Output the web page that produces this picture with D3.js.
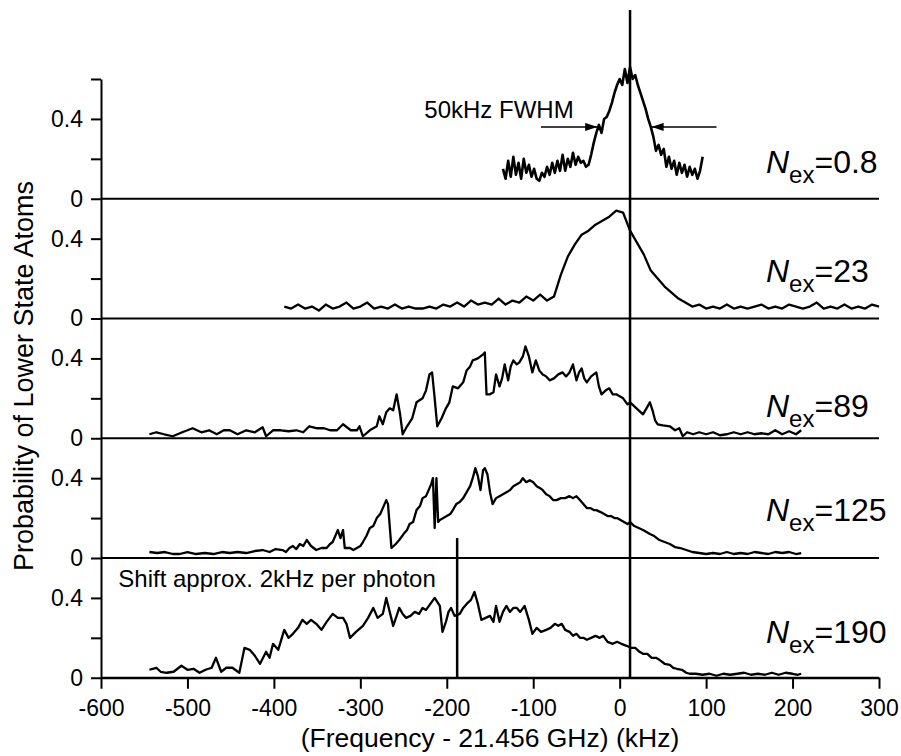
<!DOCTYPE html>
<html lang="en">
<head>
<meta charset="UTF-8">
<title>Probability of Lower State Atoms</title>
<script src="https://cdn.jsdelivr.net/npm/d3@7"></script>
<style>
  body { margin: 0; background: #fff; }
  text { font-family: "Liberation Sans", Arial, sans-serif; fill: #000; }
</style>
</head>
<body>
<script>
// panel labels, top to bottom
const nexLabels = ["0.8", "23", "89", "125", "190"];

// [frequency offset (kHz), probability]
const nex08 = [[-135,0.15],[-132,0.10],[-129,0.19],[-126,0.11],[-123,0.21],[-120,0.12],[-117,0.18],[-114,0.10],[-111,0.20],[-108,0.13],
  [-105,0.17],[-102,0.11],[-99,0.15],[-96,0.10],[-93,0.09],[-90,0.13],[-87,0.11],[-84,0.16],[-81,0.12],[-78,0.18],
  [-75,0.13],[-72,0.19],[-69,0.14],[-66,0.22],[-63,0.14],[-60,0.20],[-57,0.16],[-54,0.23],[-51,0.17],[-48,0.21],
  [-45,0.18],[-42,0.19],[-39,0.16],[-36,0.17],[-33,0.22],[-30,0.28],[-27,0.33],[-24,0.37],[-21,0.33],[-18,0.40],
  [-15,0.41],[-12,0.44],[-9,0.48],[-6,0.53],[-3,0.57],[0,0.60],[3,0.57],[6,0.65],[9,0.58],[12,0.66],
  [15,0.60],[18,0.62],[21,0.57],[24,0.53],[27,0.49],[30,0.45],[33,0.40],[36,0.36],[39,0.31],[42,0.24],
  [45,0.27],[48,0.22],[51,0.25],[54,0.16],[57,0.21],[60,0.15],[63,0.19],[66,0.12],[69,0.18],[72,0.13],
  [75,0.17],[78,0.11],[81,0.16],[84,0.12],[87,0.15],[90,0.10],[93,0.14],[96,0.21]];

const nex23 = [[-388,0.06],[-380,0.05],[-372,0.07],[-364,0.05],[-356,0.06],[-348,0.04],[-340,0.07],[-332,0.05],[-324,0.06],[-316,0.08],
  [-308,0.05],[-300,0.06],[-292,0.08],[-284,0.05],[-276,0.06],[-268,0.05],[-260,0.07],[-252,0.05],[-244,0.06],[-236,0.05],
  [-228,0.05],[-220,0.06],[-212,0.05],[-204,0.07],[-196,0.06],[-188,0.08],[-180,0.06],[-172,0.09],[-164,0.07],[-156,0.08],
  [-148,0.07],[-140,0.10],[-132,0.07],[-124,0.09],[-116,0.08],[-108,0.11],[-100,0.09],[-92,0.12],[-84,0.09],[-76,0.11],
  [-68,0.22],[-60,0.31],[-52,0.37],[-44,0.42],[-36,0.44],[-28,0.47],[-20,0.49],[-12,0.51],[-4,0.54],[4,0.53],
  [12,0.44],[20,0.38],[28,0.32],[36,0.24],[44,0.20],[52,0.16],[60,0.13],[68,0.10],[76,0.08],[84,0.06],
  [92,0.07],[100,0.05],[108,0.06],[116,0.05],[124,0.07],[132,0.05],[140,0.06],[148,0.05],[156,0.06],[164,0.07],
  [172,0.05],[180,0.06],[188,0.05],[196,0.07],[204,0.06],[212,0.05],[220,0.06],[228,0.08],[236,0.05],[244,0.06],
  [252,0.05],[260,0.07],[268,0.05],[276,0.06],[284,0.05],[292,0.07],[300,0.06]];

const nex89 = [[-544,0.02],[-536,0.03],[-527,0.02],[-517,0.01],[-506,0.03],[-494,0.05],[-484,0.03],[-475,0.04],[-466,0.02],[-458,0.04],
  [-451,0.04],[-442,0.02],[-432,0.04],[-422,0.03],[-413,0.055],[-409,0.01],[-401,0.04],[-392,0.04],[-383,0.035],[-374,0.04],
  [-366,0.03],[-359,0.06],[-350,0.05],[-342,0.05],[-335,0.04],[-327,0.04],[-320,0.07],[-311,0.04],[-304,0.04],[-301,0.06],
  [-297,0.01],[-289,0.04],[-281,0.06],[-278,0.11],[-274,0.07],[-270,0.13],[-266,0.15],[-262,0.14],[-258,0.22],[-254,0.12],
  [-251,0.02],[-246,0.06],[-240,0.10],[-235,0.18],[-228,0.20],[-224,0.24],[-220,0.32],[-217,0.33],[-214,0.20],[-211,0.06],
  [-206,0.10],[-201,0.15],[-197,0.18],[-193,0.26],[-187,0.25],[-181,0.28],[-177,0.34],[-173,0.36],[-170,0.39],[-164,0.40],
  [-158,0.42],[-156,0.43],[-154,0.22],[-150,0.22],[-146,0.23],[-143,0.32],[-139,0.26],[-136,0.30],[-133,0.37],[-129,0.29],
  [-126,0.36],[-123,0.39],[-119,0.37],[-116,0.38],[-112,0.41],[-109,0.46],[-105,0.41],[-101,0.33],[-97,0.39],[-93,0.34],
  [-89,0.32],[-85,0.31],[-81,0.29],[-76,0.30],[-71,0.32],[-66,0.33],[-62,0.31],[-58,0.33],[-54,0.37],[-50,0.29],
  [-47,0.33],[-44,0.35],[-41,0.30],[-38,0.28],[-33,0.31],[-27,0.33],[-24,0.26],[-21,0.22],[-16,0.24],[-12,0.25],
  [-8,0.22],[-4,0.22],[0,0.21],[4,0.20],[9,0.17],[12,0.18],[17,0.16],[22,0.14],[27,0.12],[31,0.15],
  [35,0.18],[38,0.14],[41,0.09],[44,0.07],[50,0.065],[58,0.06],[64,0.04],[69,0.05],[73,0.01],[78,0.03],
  [85,0.02],[92,0.03],[100,0.02],[108,0.03],[116,0.015],[124,0.02],[132,0.03],[140,0.02],[148,0.03],[156,0.02],
  [164,0.025],[172,0.02],[180,0.04],[188,0.02],[196,0.035],[204,0.02],[210,0.04]];

const nex125 = [[-544,0.03],[-535,0.025],[-526,0.03],[-517,0.02],[-509,0.02],[-500,0.03],[-490,0.02],[-480,0.025],[-470,0.02],[-460,0.03],
  [-451,0.025],[-442,0.03],[-432,0.025],[-422,0.035],[-413,0.04],[-405,0.03],[-398,0.045],[-390,0.04],[-386,0.03],[-382,0.05],
  [-378,0.06],[-374,0.045],[-370,0.07],[-366,0.06],[-362,0.09],[-357,0.06],[-351,0.04],[-345,0.05],[-339,0.05],[-335,0.07],
  [-332,0.08],[-329,0.11],[-326,0.14],[-323,0.10],[-320,0.14],[-318,0.05],[-312,0.05],[-308,0.04],[-304,0.05],[-300,0.06],
  [-297,0.08],[-293,0.11],[-289,0.15],[-285,0.16],[-281,0.20],[-277,0.22],[-273,0.26],[-270,0.29],[-268,0.27],[-266,0.16],
  [-264,0.05],[-259,0.07],[-255,0.09],[-250,0.12],[-246,0.14],[-243,0.17],[-239,0.18],[-235,0.24],[-231,0.26],[-228,0.30],
  [-224,0.31],[-220,0.35],[-218,0.37],[-216,0.40],[-214,0.15],[-212,0.40],[-210,0.18],[-208,0.19],[-204,0.20],[-200,0.21],
  [-196,0.22],[-193,0.24],[-189,0.27],[-185,0.28],[-181,0.30],[-177,0.33],[-173,0.36],[-170,0.40],[-167,0.45],[-164,0.41],
  [-161,0.34],[-158,0.44],[-156,0.45],[-153,0.42],[-150,0.33],[-147,0.27],[-143,0.30],[-139,0.31],[-135,0.32],[-131,0.33],
  [-127,0.34],[-123,0.36],[-119,0.37],[-115,0.38],[-112,0.40],[-108,0.38],[-104,0.39],[-100,0.38],[-96,0.36],[-92,0.35],
  [-89,0.34],[-85,0.32],[-81,0.31],[-77,0.29],[-73,0.29],[-68,0.30],[-63,0.30],[-58,0.31],[-54,0.30],[-50,0.31],
  [-46,0.29],[-42,0.27],[-38,0.25],[-34,0.25],[-30,0.24],[-27,0.24],[-22,0.23],[-18,0.22],[-14,0.21],[-10,0.21],
  [-6,0.20],[-3,0.20],[1,0.19],[5,0.18],[9,0.17],[12,0.18],[17,0.16],[22,0.15],[27,0.14],[31,0.13],
  [35,0.12],[40,0.11],[46,0.09],[52,0.08],[58,0.07],[64,0.055],[70,0.05],[77,0.04],[84,0.03],[92,0.025],
  [100,0.02],[108,0.025],[116,0.02],[124,0.03],[132,0.02],[140,0.025],[148,0.02],[156,0.03],[164,0.025],[172,0.02],
  [180,0.03],[188,0.025],[196,0.03],[204,0.02],[210,0.025]];

const nex190 = [[-544,0.04],[-536,0.05],[-531,0.03],[-524,0.025],[-516,0.03],[-507,0.06],[-500,0.04],[-493,0.045],[-486,0.025],[-479,0.04],
  [-472,0.05],[-467,0.10],[-461,0.03],[-455,0.05],[-448,0.05],[-440,0.025],[-434,0.15],[-428,0.14],[-422,0.11],[-416,0.07],
  [-409,0.13],[-405,0.10],[-401,0.17],[-395,0.14],[-388,0.24],[-383,0.20],[-378,0.22],[-372,0.25],[-367,0.29],[-362,0.27],
  [-357,0.29],[-351,0.27],[-345,0.24],[-339,0.28],[-332,0.32],[-326,0.30],[-320,0.30],[-316,0.27],[-312,0.20],[-305,0.23],
  [-297,0.26],[-291,0.30],[-285,0.35],[-280,0.30],[-274,0.32],[-270,0.40],[-266,0.33],[-262,0.26],[-258,0.31],[-255,0.35],
  [-251,0.32],[-247,0.30],[-242,0.31],[-237,0.33],[-232,0.32],[-228,0.35],[-224,0.34],[-219,0.37],[-214,0.40],[-211,0.38],
  [-208,0.36],[-205,0.23],[-201,0.28],[-198,0.33],[-195,0.35],[-191,0.31],[-185,0.32],[-181,0.35],[-177,0.37],[-172,0.39],
  [-168,0.43],[-164,0.37],[-160,0.29],[-155,0.30],[-150,0.31],[-146,0.28],[-143,0.36],[-139,0.28],[-135,0.33],[-131,0.36],
  [-127,0.33],[-123,0.35],[-119,0.35],[-115,0.33],[-110,0.36],[-105,0.29],[-101,0.22],[-96,0.25],[-91,0.23],[-85,0.24],
  [-80,0.25],[-75,0.27],[-71,0.26],[-67,0.27],[-63,0.24],[-58,0.23],[-54,0.21],[-50,0.22],[-46,0.20],[-42,0.20],
  [-38,0.19],[-33,0.20],[-28,0.21],[-23,0.20],[-19,0.21],[-14,0.18],[-8,0.17],[-3,0.18],[2,0.17],[8,0.16],
  [13,0.15],[18,0.15],[23,0.13],[27,0.12],[32,0.12],[37,0.10],[42,0.10],[46,0.09],[52,0.07],[58,0.065],
  [62,0.05],[66,0.045],[72,0.04],[77,0.025],[81,0.02],[88,0.02],[96,0.015],[104,0.02],[112,0.01],[120,0.02],
  [128,0.015],[136,0.02],[144,0.025],[152,0.015],[160,0.02],[168,0.015],[176,0.025],[184,0.015],[192,0.025],[200,0.02],
  [206,0.015],[210,0.02]];

const series = [nex08, nex23, nex89, nex125, nex190];

const xTicks = [-600, -500, -400, -300, -200, -100, 0, 100, 200, 300];
const yTicks = [0, 0.2, 0.4];

// markers (kHz)
const resonance = 12;
const shiftMark = -188;
const fwhmArrows = [[-91, -26], [112, 37]];   // tail, tip
const fwhmLevel = 0.36;

// ---- layout ----
const W = 901, H = 756;
const plotTop = 79, panelH = 119.75;
const labelLift = [26, 37, 21, 37, 35];

const svg = d3.select('body').append('svg')
  .attr('width', W).attr('height', H);

const x = d3.scaleLinear().domain([-600, 300]).range([101, 879]);
const y = d3.scaleLinear().domain([0, 0.6]).range([panelH, 0]);

const line = d3.line()
  .x(d => x(d[0]))
  .y(d => y(d[1]));

svg.append('defs').append('marker')
  .attr('id', 'head')
  .attr('viewBox', '0 0 12 8')
  .attr('refX', 12).attr('refY', 4)
  .attr('markerWidth', 12).attr('markerHeight', 8)
  .attr('markerUnits', 'userSpaceOnUse')
  .attr('orient', 'auto')
  .append('path').attr('d', 'M0,0 L12,4 L0,8 Z').attr('fill', '#000');

const panels = series.map((data, i) => {
  const g = svg.append('g').attr('transform', `translate(0,${plotTop + i * panelH})`);

  g.append('path')
    .datum(data)
    .attr('d', line)
    .attr('fill', 'none')
    .attr('stroke', '#000')
    .attr('stroke-width', i === 0 ? 2.6 : 2.3)
    .attr('stroke-linejoin', 'round');

  g.append('line')
    .attr('x1', x(-600)).attr('x2', x(300))
    .attr('y1', y(0)).attr('y2', y(0))
    .attr('stroke', '#000').attr('stroke-width', 2);

  const ticks = i === 0 ? [0, 0.2, 0.4, 0.6] : yTicks;
  const ax = d3.axisLeft(y)
    .tickValues(ticks)
    .tickSize(10)
    .tickSizeOuter(0)
    .tickPadding(8)
    .tickFormat(d => d === 0 ? '0' : (Math.abs(d - 0.4) < 1e-9 ? '0.4' : ''));
  const ag = g.append('g').attr('transform', `translate(${x(-600)},0)`).call(ax);
  ag.selectAll('path, line').attr('stroke-width', 2);
  ag.selectAll('text').attr('font-size', 23).attr('font-family', null);

  const t = g.append('text')
    .attr('x', 766)
    .attr('y', y(0) - labelLift[i]);
  t.append('tspan').attr('font-size', 32).attr('font-style', 'italic').text('N');
  t.append('tspan').attr('font-size', 24).attr('dy', 10).text('ex');
  t.append('tspan').attr('font-size', 32).attr('dy', -10).text('=' + nexLabels[i]);

  return g;
});

// x axis under the last panel (plain hyphen minus, as in the figure)
const xa = svg.append('g')
  .attr('transform', `translate(0,${plotTop + 5 * panelH})`)
  .call(d3.axisBottom(x).tickValues(xTicks).tickSize(11).tickSizeOuter(0).tickPadding(11)
    .tickFormat(d => String(d)));
xa.selectAll('path, line').attr('stroke-width', 2);
xa.selectAll('text').attr('font-size', 23).attr('font-family', null);

// resonance line through all panels
svg.append('line')
  .attr('x1', x(resonance)).attr('x2', x(resonance))
  .attr('y1', 10).attr('y2', plotTop + 5 * panelH)
  .attr('stroke', '#000').attr('stroke-width', 2.5);

// shift marker in the last panel
panels[4].append('line')
  .attr('x1', x(shiftMark)).attr('x2', x(shiftMark))
  .attr('y1', y(0.70)).attr('y2', y(0))
  .attr('stroke', '#000').attr('stroke-width', 2.5);

panels[4].append('text')
  .attr('x', x(-580)).attr('y', y(0.455))
  .attr('font-size', 24)
  .text('Shift approx. 2kHz per photon');

// FWHM arrows and note in the top panel
fwhmArrows.forEach(a => {
  panels[0].append('line')
    .attr('x1', x(a[0])).attr('x2', x(a[1]))
    .attr('y1', y(fwhmLevel)).attr('y2', y(fwhmLevel))
    .attr('stroke', '#000').attr('stroke-width', 1.5)
    .attr('marker-end', 'url(#head)');
});
panels[0].append('text')
  .attr('x', x(-226)).attr('y', y(0.405))
  .attr('font-size', 24)
  .text('50kHz FWHM');

// axis titles
svg.append('text')
  .attr('x', 490).attr('y', 747)
  .attr('text-anchor', 'middle')
  .attr('font-size', 26.5)
  .text('(Frequency - 21.456 GHz) (kHz)');

svg.append('text')
  .attr('transform', 'translate(33,376) rotate(-90)')
  .attr('text-anchor', 'middle')
  .attr('font-size', 27)
  .text('Probability of Lower State Atoms');
</script>
</body>
</html>
